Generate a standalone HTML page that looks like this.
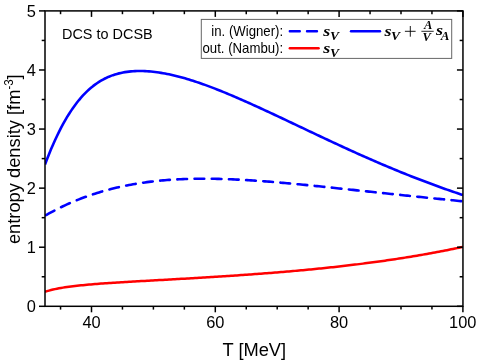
<!DOCTYPE html>
<html><head><meta charset="utf-8"><title>entropy density</title>
<style>
html,body{margin:0;padding:0;background:#fff;}
body{width:478px;height:361px;overflow:hidden;font-family:"Liberation Sans",sans-serif;}
svg{display:block;will-change:transform;}
text{font-family:"Liberation Sans",sans-serif;fill:#000;}
.m{font-family:"Liberation Serif",serif;font-weight:bold;font-style:italic;}
</style></head><body>
<svg width="478" height="361" viewBox="0 0 478 361">
<rect x="0" y="0" width="478" height="361" fill="#fff"/>
<defs><clipPath id="c"><rect x="45.0" y="10.9" width="417.95" height="295.40000000000003"/></clipPath></defs>
<g clip-path="url(#c)" fill="none" stroke-linejoin="round">
<path d="M45.00,291.76 L47.00,291.15 L49.00,290.58 L51.00,290.05 L53.00,289.57 L55.00,289.11 L57.00,288.70 L59.00,288.31 L61.00,287.95 L63.00,287.61 L65.00,287.29 L67.00,287.00 L69.00,286.72 L71.00,286.46 L73.00,286.22 L75.00,285.98 L77.00,285.76 L79.00,285.55 L81.00,285.34 L83.00,285.15 L85.00,284.96 L87.00,284.77 L89.00,284.59 L91.00,284.42 L93.00,284.25 L95.00,284.09 L97.00,283.93 L99.00,283.77 L101.00,283.62 L103.00,283.47 L105.00,283.33 L107.00,283.19 L109.00,283.05 L111.00,282.91 L113.00,282.78 L115.00,282.65 L117.00,282.52 L119.00,282.39 L121.00,282.27 L123.00,282.15 L125.00,282.03 L127.00,281.91 L129.00,281.79 L131.00,281.67 L133.00,281.56 L135.00,281.44 L137.00,281.33 L139.00,281.22 L141.00,281.10 L143.00,280.99 L145.00,280.88 L147.00,280.77 L149.00,280.66 L151.00,280.55 L153.00,280.44 L155.00,280.33 L157.00,280.22 L159.00,280.10 L161.00,279.99 L163.00,279.88 L165.00,279.77 L167.00,279.66 L169.00,279.55 L171.00,279.43 L173.00,279.32 L175.00,279.21 L177.00,279.09 L179.00,278.98 L181.00,278.86 L183.00,278.75 L185.00,278.63 L187.00,278.52 L189.00,278.40 L191.00,278.28 L193.00,278.17 L195.00,278.05 L197.00,277.93 L199.00,277.81 L201.00,277.69 L203.00,277.57 L205.00,277.44 L207.00,277.32 L209.00,277.20 L211.00,277.07 L213.00,276.95 L215.00,276.82 L217.00,276.70 L219.00,276.57 L221.00,276.44 L223.00,276.31 L225.00,276.18 L227.00,276.05 L229.00,275.92 L231.00,275.79 L233.00,275.65 L235.00,275.52 L237.00,275.38 L239.00,275.24 L241.00,275.11 L243.00,274.97 L245.00,274.83 L247.00,274.68 L249.00,274.54 L251.00,274.40 L253.00,274.25 L255.00,274.11 L257.00,273.96 L259.00,273.81 L261.00,273.66 L263.00,273.51 L265.00,273.35 L267.00,273.20 L269.00,273.04 L271.00,272.89 L273.00,272.73 L275.00,272.57 L277.00,272.40 L279.00,272.24 L281.00,272.07 L283.00,271.91 L285.00,271.74 L287.00,271.57 L289.00,271.40 L291.00,271.22 L293.00,271.05 L295.00,270.87 L297.00,270.69 L299.00,270.51 L301.00,270.33 L303.00,270.15 L305.00,269.96 L307.00,269.77 L309.00,269.58 L311.00,269.39 L313.00,269.20 L315.00,269.00 L317.00,268.80 L319.00,268.60 L321.00,268.40 L323.00,268.19 L325.00,267.99 L327.00,267.78 L329.00,267.57 L331.00,267.35 L333.00,267.14 L335.00,266.92 L337.00,266.70 L339.00,266.48 L341.00,266.25 L343.00,266.03 L345.00,265.80 L347.00,265.57 L349.00,265.33 L351.00,265.09 L353.00,264.85 L355.00,264.61 L357.00,264.37 L359.00,264.12 L361.00,263.87 L363.00,263.62 L365.00,263.36 L367.00,263.10 L369.00,262.84 L371.00,262.58 L373.00,262.31 L375.00,262.04 L377.00,261.77 L379.00,261.49 L381.00,261.21 L383.00,260.93 L385.00,260.65 L387.00,260.36 L389.00,260.07 L391.00,259.77 L393.00,259.48 L395.00,259.18 L397.00,258.87 L399.00,258.57 L401.00,258.26 L403.00,257.94 L405.00,257.63 L407.00,257.31 L409.00,256.98 L411.00,256.66 L413.00,256.33 L415.00,255.99 L417.00,255.65 L419.00,255.31 L421.00,254.97 L423.00,254.62 L425.00,254.27 L427.00,253.91 L429.00,253.55 L431.00,253.19 L433.00,252.82 L435.00,252.45 L437.00,252.08 L439.00,251.70 L441.00,251.32 L443.00,250.93 L445.00,250.54 L447.00,250.15 L449.00,249.75 L451.00,249.35 L453.00,248.94 L455.00,248.53 L457.00,248.11 L459.00,247.69 L461.00,247.27 L462.90,246.86" stroke="#ff0000" stroke-width="2.5"/>
<path d="M45.00,215.73 L47.00,214.59 L49.00,213.47 L51.00,212.38 L53.00,211.31 L55.00,210.26 L57.00,209.24 L59.00,208.24 L61.00,207.25 L63.00,206.29 L65.00,205.35 L67.00,204.44 L69.00,203.54 L71.00,202.66 L73.00,201.81 L75.00,200.97 L77.00,200.15 L79.00,199.35 L81.00,198.57 L83.00,197.82 L85.00,197.07 L87.00,196.35 L89.00,195.65 L91.00,194.96 L93.00,194.29 L95.00,193.64 L97.00,193.01 L99.00,192.39 L101.00,191.79 L103.00,191.21 L105.00,190.64 L107.00,190.09 L109.00,189.56 L111.00,189.04 L113.00,188.54 L115.00,188.05 L117.00,187.58 L119.00,187.12 L121.00,186.68 L123.00,186.25 L125.00,185.83 L127.00,185.43 L129.00,185.05 L131.00,184.67 L133.00,184.31 L135.00,183.97 L137.00,183.63 L139.00,183.31 L141.00,183.01 L143.00,182.71 L145.00,182.43 L147.00,182.16 L149.00,181.90 L151.00,181.65 L153.00,181.41 L155.00,181.19 L157.00,180.98 L159.00,180.77 L161.00,180.58 L163.00,180.40 L165.00,180.23 L167.00,180.07 L169.00,179.92 L171.00,179.77 L173.00,179.64 L175.00,179.52 L177.00,179.41 L179.00,179.31 L181.00,179.21 L183.00,179.13 L185.00,179.05 L187.00,178.98 L189.00,178.92 L191.00,178.87 L193.00,178.82 L195.00,178.79 L197.00,178.76 L199.00,178.74 L201.00,178.72 L203.00,178.72 L205.00,178.72 L207.00,178.73 L209.00,178.74 L211.00,178.76 L213.00,178.79 L215.00,178.82 L217.00,178.86 L219.00,178.91 L221.00,178.96 L223.00,179.02 L225.00,179.08 L227.00,179.15 L229.00,179.23 L231.00,179.31 L233.00,179.39 L235.00,179.48 L237.00,179.58 L239.00,179.68 L241.00,179.78 L243.00,179.89 L245.00,180.00 L247.00,180.12 L249.00,180.24 L251.00,180.37 L253.00,180.50 L255.00,180.63 L257.00,180.77 L259.00,180.91 L261.00,181.05 L263.00,181.20 L265.00,181.35 L267.00,181.51 L269.00,181.66 L271.00,181.82 L273.00,181.99 L275.00,182.15 L277.00,182.32 L279.00,182.49 L281.00,182.67 L283.00,182.84 L285.00,183.02 L287.00,183.20 L289.00,183.38 L291.00,183.57 L293.00,183.76 L295.00,183.94 L297.00,184.13 L299.00,184.33 L301.00,184.52 L303.00,184.72 L305.00,184.91 L307.00,185.11 L309.00,185.31 L311.00,185.51 L313.00,185.71 L315.00,185.92 L317.00,186.12 L319.00,186.32 L321.00,186.53 L323.00,186.74 L325.00,186.95 L327.00,187.15 L329.00,187.36 L331.00,187.57 L333.00,187.78 L335.00,188.00 L337.00,188.21 L339.00,188.42 L341.00,188.63 L343.00,188.84 L345.00,189.06 L347.00,189.27 L349.00,189.48 L351.00,189.70 L353.00,189.91 L355.00,190.12 L357.00,190.34 L359.00,190.55 L361.00,190.77 L363.00,190.98 L365.00,191.19 L367.00,191.41 L369.00,191.62 L371.00,191.83 L373.00,192.05 L375.00,192.26 L377.00,192.47 L379.00,192.69 L381.00,192.90 L383.00,193.11 L385.00,193.32 L387.00,193.53 L389.00,193.74 L391.00,193.95 L393.00,194.17 L395.00,194.38 L397.00,194.58 L399.00,194.79 L401.00,195.00 L403.00,195.21 L405.00,195.42 L407.00,195.63 L409.00,195.83 L411.00,196.04 L413.00,196.25 L415.00,196.45 L417.00,196.66 L419.00,196.87 L421.00,197.07 L423.00,197.28 L425.00,197.48 L427.00,197.68 L429.00,197.89 L431.00,198.09 L433.00,198.30 L435.00,198.50 L437.00,198.70 L439.00,198.90 L441.00,199.11 L443.00,199.31 L445.00,199.51 L447.00,199.72 L449.00,199.92 L451.00,200.12 L453.00,200.32 L455.00,200.53 L457.00,200.73 L459.00,200.93 L461.00,201.14 L462.90,201.33" stroke="#0000ff" stroke-width="2.6" stroke-linecap="round" stroke-dasharray="9.70 7.50" stroke-dashoffset="-0.98"/>
<path d="M45.00,164.50 L47.00,159.24 L49.00,154.18 L51.00,149.33 L53.00,144.67 L55.00,140.21 L57.00,135.93 L59.00,131.83 L61.00,127.92 L63.00,124.18 L65.00,120.61 L67.00,117.21 L69.00,113.97 L71.00,110.88 L73.00,107.95 L75.00,105.17 L77.00,102.54 L79.00,100.04 L81.00,97.68 L83.00,95.45 L85.00,93.36 L87.00,91.38 L89.00,89.53 L91.00,87.79 L93.00,86.16 L95.00,84.64 L97.00,83.22 L99.00,81.90 L101.00,80.68 L103.00,79.55 L105.00,78.51 L107.00,77.55 L109.00,76.68 L111.00,75.87 L113.00,75.15 L115.00,74.49 L117.00,73.90 L119.00,73.37 L121.00,72.90 L123.00,72.50 L125.00,72.14 L127.00,71.84 L129.00,71.59 L131.00,71.39 L133.00,71.24 L135.00,71.12 L137.00,71.05 L139.00,71.02 L141.00,71.02 L143.00,71.07 L145.00,71.14 L147.00,71.25 L149.00,71.39 L151.00,71.56 L153.00,71.77 L155.00,72.00 L157.00,72.25 L159.00,72.54 L161.00,72.85 L163.00,73.18 L165.00,73.54 L167.00,73.93 L169.00,74.33 L171.00,74.76 L173.00,75.22 L175.00,75.69 L177.00,76.18 L179.00,76.70 L181.00,77.23 L183.00,77.78 L185.00,78.35 L187.00,78.93 L189.00,79.54 L191.00,80.16 L193.00,80.79 L195.00,81.44 L197.00,82.11 L199.00,82.79 L201.00,83.48 L203.00,84.18 L205.00,84.90 L207.00,85.63 L209.00,86.37 L211.00,87.12 L213.00,87.89 L215.00,88.66 L217.00,89.44 L219.00,90.24 L221.00,91.04 L223.00,91.85 L225.00,92.67 L227.00,93.49 L229.00,94.33 L231.00,95.17 L233.00,96.02 L235.00,96.87 L237.00,97.73 L239.00,98.60 L241.00,99.47 L243.00,100.35 L245.00,101.24 L247.00,102.12 L249.00,103.02 L251.00,103.91 L253.00,104.82 L255.00,105.72 L257.00,106.63 L259.00,107.54 L261.00,108.46 L263.00,109.38 L265.00,110.31 L267.00,111.23 L269.00,112.16 L271.00,113.09 L273.00,114.03 L275.00,114.96 L277.00,115.90 L279.00,116.84 L281.00,117.78 L283.00,118.72 L285.00,119.67 L287.00,120.61 L289.00,121.56 L291.00,122.51 L293.00,123.46 L295.00,124.41 L297.00,125.35 L299.00,126.30 L301.00,127.25 L303.00,128.20 L305.00,129.15 L307.00,130.10 L309.00,131.05 L311.00,132.00 L313.00,132.94 L315.00,133.89 L317.00,134.83 L319.00,135.78 L321.00,136.72 L323.00,137.66 L325.00,138.60 L327.00,139.54 L329.00,140.47 L331.00,141.41 L333.00,142.34 L335.00,143.27 L337.00,144.19 L339.00,145.12 L341.00,146.04 L343.00,146.96 L345.00,147.88 L347.00,148.80 L349.00,149.71 L351.00,150.62 L353.00,151.52 L355.00,152.43 L357.00,153.33 L359.00,154.22 L361.00,155.12 L363.00,156.01 L365.00,156.89 L367.00,157.77 L369.00,158.65 L371.00,159.53 L373.00,160.40 L375.00,161.27 L377.00,162.13 L379.00,162.99 L381.00,163.85 L383.00,164.70 L385.00,165.55 L387.00,166.39 L389.00,167.23 L391.00,168.07 L393.00,168.90 L395.00,169.72 L397.00,170.55 L399.00,171.36 L401.00,172.18 L403.00,172.99 L405.00,173.79 L407.00,174.59 L409.00,175.39 L411.00,176.18 L413.00,176.96 L415.00,177.74 L417.00,178.52 L419.00,179.29 L421.00,180.06 L423.00,180.82 L425.00,181.58 L427.00,182.33 L429.00,183.08 L431.00,183.83 L433.00,184.57 L435.00,185.30 L437.00,186.03 L439.00,186.76 L441.00,187.48 L443.00,188.19 L445.00,188.90 L447.00,189.61 L449.00,190.31 L451.00,191.01 L453.00,191.70 L455.00,192.39 L457.00,193.08 L459.00,193.76 L461.00,194.43 L462.90,195.07" stroke="#0000ff" stroke-width="2.6"/>
</g>
<g stroke="#000" stroke-width="1.5" fill="none">
<rect x="45.0" y="10.9" width="417.95" height="295.40000000000003"/>
<line x1="60.55" y1="306.3" x2="60.55" y2="309.6"/><line x1="60.55" y1="10.9" x2="60.55" y2="14.2"/><line x1="91.50" y1="306.3" x2="91.50" y2="312.3"/><line x1="91.50" y1="10.9" x2="91.50" y2="16.9"/><line x1="122.45" y1="306.3" x2="122.45" y2="309.6"/><line x1="122.45" y1="10.9" x2="122.45" y2="14.2"/><line x1="153.40" y1="306.3" x2="153.40" y2="309.6"/><line x1="153.40" y1="10.9" x2="153.40" y2="14.2"/><line x1="184.35" y1="306.3" x2="184.35" y2="309.6"/><line x1="184.35" y1="10.9" x2="184.35" y2="14.2"/><line x1="215.30" y1="306.3" x2="215.30" y2="312.3"/><line x1="215.30" y1="10.9" x2="215.30" y2="16.9"/><line x1="246.25" y1="306.3" x2="246.25" y2="309.6"/><line x1="246.25" y1="10.9" x2="246.25" y2="14.2"/><line x1="277.20" y1="306.3" x2="277.20" y2="309.6"/><line x1="277.20" y1="10.9" x2="277.20" y2="14.2"/><line x1="308.15" y1="306.3" x2="308.15" y2="309.6"/><line x1="308.15" y1="10.9" x2="308.15" y2="14.2"/><line x1="339.10" y1="306.3" x2="339.10" y2="312.3"/><line x1="339.10" y1="10.9" x2="339.10" y2="16.9"/><line x1="370.05" y1="306.3" x2="370.05" y2="309.6"/><line x1="370.05" y1="10.9" x2="370.05" y2="14.2"/><line x1="401.00" y1="306.3" x2="401.00" y2="309.6"/><line x1="401.00" y1="10.9" x2="401.00" y2="14.2"/><line x1="431.95" y1="306.3" x2="431.95" y2="309.6"/><line x1="431.95" y1="10.9" x2="431.95" y2="14.2"/><line x1="462.90" y1="306.3" x2="462.90" y2="312.3"/><line x1="462.90" y1="10.9" x2="462.90" y2="16.9"/><line x1="45.0" y1="306.30" x2="39.0" y2="306.30"/><line x1="462.95" y1="306.30" x2="456.95" y2="306.30"/><line x1="45.0" y1="276.76" x2="41.7" y2="276.76"/><line x1="462.95" y1="276.76" x2="459.65" y2="276.76"/><line x1="45.0" y1="247.22" x2="39.0" y2="247.22"/><line x1="462.95" y1="247.22" x2="456.95" y2="247.22"/><line x1="45.0" y1="217.68" x2="41.7" y2="217.68"/><line x1="462.95" y1="217.68" x2="459.65" y2="217.68"/><line x1="45.0" y1="188.14" x2="39.0" y2="188.14"/><line x1="462.95" y1="188.14" x2="456.95" y2="188.14"/><line x1="45.0" y1="158.60" x2="41.7" y2="158.60"/><line x1="462.95" y1="158.60" x2="459.65" y2="158.60"/><line x1="45.0" y1="129.06" x2="39.0" y2="129.06"/><line x1="462.95" y1="129.06" x2="456.95" y2="129.06"/><line x1="45.0" y1="99.52" x2="41.7" y2="99.52"/><line x1="462.95" y1="99.52" x2="459.65" y2="99.52"/><line x1="45.0" y1="69.98" x2="39.0" y2="69.98"/><line x1="462.95" y1="69.98" x2="456.95" y2="69.98"/><line x1="45.0" y1="40.44" x2="41.7" y2="40.44"/><line x1="462.95" y1="40.44" x2="459.65" y2="40.44"/><line x1="45.0" y1="10.90" x2="39.0" y2="10.90"/><line x1="462.95" y1="10.90" x2="456.95" y2="10.90"/>
</g>
<g><text transform="translate(91.50,328.20) scale(1.0,1.04)" font-size="16.4px" text-anchor="middle">40</text><text transform="translate(215.30,328.20) scale(1.0,1.04)" font-size="16.4px" text-anchor="middle">60</text><text transform="translate(339.10,328.20) scale(1.0,1.04)" font-size="16.4px" text-anchor="middle">80</text><text transform="translate(462.80,328.20) scale(1.0,1.04)" font-size="16.4px" text-anchor="middle">100</text><text transform="translate(36.00,312.15) scale(1.0,1.04)" font-size="16.4px" text-anchor="end">0</text><text transform="translate(36.00,253.07) scale(1.0,1.04)" font-size="16.4px" text-anchor="end">1</text><text transform="translate(36.00,193.99) scale(1.0,1.04)" font-size="16.4px" text-anchor="end">2</text><text transform="translate(36.00,134.91) scale(1.0,1.04)" font-size="16.4px" text-anchor="end">3</text><text transform="translate(36.00,75.83) scale(1.0,1.04)" font-size="16.4px" text-anchor="end">4</text><text transform="translate(36.00,16.75) scale(1.0,1.04)" font-size="16.4px" text-anchor="end">5</text></g>
<text transform="translate(254.30,355.80) scale(1.0,1.04)" font-size="18.3px" text-anchor="middle">T [MeV]</text>
<text transform="translate(19.5,159.2) rotate(-90) scale(1,1.04)" font-size="18.3px" text-anchor="middle">entropy density [fm<tspan font-size="11.5px" dy="-6.5">-3</tspan><tspan dy="6.5">]</tspan></text>
<text transform="translate(62.00,38.80) scale(1.0,1.04)" font-size="14.45px" text-anchor="start">DCS to DCSB</text>
<rect x="201.3" y="19.4" width="250.4" height="39.0" fill="#fff" stroke="#666" stroke-width="1"/>
<text transform="translate(283.10,35.60) scale(1.0,1.05)" font-size="13.2px" text-anchor="end">in. (Wigner):</text>
<text transform="translate(283.10,52.70) scale(1.0,1.05)" font-size="13.2px" text-anchor="end">out. (Nambu):</text>
<g fill="none">
<path d="M289.8,31.2 H317.2" stroke="#0000ff" stroke-width="2.4" stroke-linecap="round" stroke-dasharray="10 7.2"/>
<path d="M289.8,48.2 H318.6" stroke="#ff0000" stroke-width="2.4" stroke-linecap="round"/>
<path d="M351,31.2 H380" stroke="#0000ff" stroke-width="2.4" stroke-linecap="round"/>
</g>
<text transform="translate(323.20,35.50) scale(1.2,1.0)" font-size="15px" text-anchor="start" class="m">s</text><text transform="translate(330.00,39.80) scale(1.0,1.0)" font-size="13.5px" text-anchor="start" class="m">V</text><text transform="translate(323.20,53.20) scale(1.2,1.0)" font-size="15px" text-anchor="start" class="m">s</text><text transform="translate(330.00,57.10) scale(1.0,1.0)" font-size="13.5px" text-anchor="start" class="m">V</text><text transform="translate(384.40,35.50) scale(1.2,1.0)" font-size="15px" text-anchor="start" class="m">s</text><text transform="translate(390.90,39.70) scale(1.0,1.0)" font-size="13.5px" text-anchor="start" class="m">V</text><path d="M404.9,31.3 H415.6 M410.3,26 V36.7" stroke="#000" stroke-width="0.9" fill="none"/><text transform="translate(424.00,29.40) scale(1.0,1.0)" font-size="12.5px" text-anchor="start" class="m">A</text><path d="M421.4,31.3 H433.7" stroke="#000" stroke-width="0.85" fill="none"/><text transform="translate(422.40,41.10) scale(1.0,1.0)" font-size="12.5px" text-anchor="start" class="m">V</text><text transform="translate(435.90,35.40) scale(1.2,1.0)" font-size="15px" text-anchor="start" class="m">s</text><text transform="translate(440.80,39.60) scale(1.0,1.0)" font-size="13px" text-anchor="start" class="m">A</text>
</svg>
</body></html>
